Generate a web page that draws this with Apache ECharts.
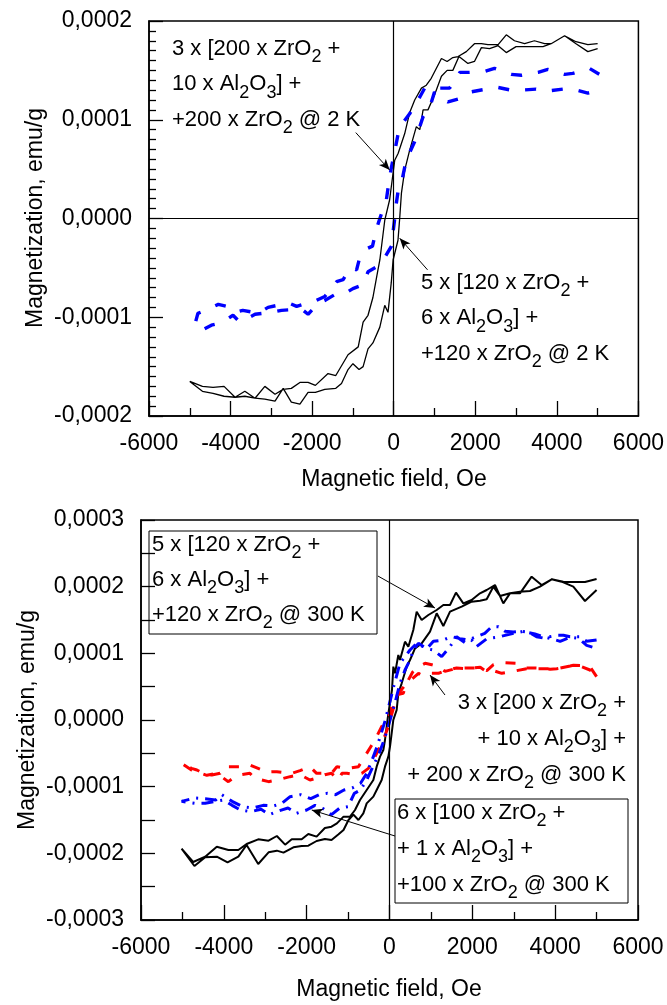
<!DOCTYPE html>
<html>
<head>
<meta charset="utf-8">
<script src="https://cdn.jsdelivr.net/npm/echarts@6/dist/echarts.min.js"></script>
<style>
  html, body { margin: 0; padding: 0; background: #fff; }
  #chart { width: 667px; height: 1005px; }
</style>
</head>
<body>
<div id="chart"></div>
<script>
// Magnetisation loops M(H). Field in Oe, magnetisation in units of 1e-4 emu/g.
// Each loop is stored as two branches (upper = descending field, lower = ascending field),
// both listed with increasing field.

// ---- upper panel, 2 K ----
const top120Upper = [
  [-5000,-1.65],[-4690,-1.70],[-4430,-1.71],[-4160,-1.70],[-3890,-1.81],[-3650,-1.75],[-3400,-1.82],
  [-3160,-1.70],[-2910,-1.78],[-2710,-1.73],[-2510,-1.72],[-2300,-1.66],[-2100,-1.66],[-1920,-1.69],
  [-1610,-1.57],[-1420,-1.59],[-1120,-1.38],[-870,-1.30],[-750,-1.05],[-630,-0.98],[-510,-0.80],
  [-400,-0.55],[-340,-0.42],[-220,-0.02],[-100,0.19],[25,0.59],[110,0.66],[270,0.86],[390,1.07],
  [515,1.20],[680,1.32],[800,1.35],[920,1.42],[1170,1.62],[1310,1.59],[1450,1.63],[1580,1.64],
  [1780,1.69],[1980,1.77],[2150,1.77],[2310,1.76],[2560,1.76],[2760,1.86],[2960,1.80],[3210,1.77],
  [3450,1.80],[3700,1.77],[3860,1.77],[4190,1.85],[4470,1.77],[4760,1.69],[5000,1.72]
];
const top120Lower = [
  [-5000,-1.65],[-4690,-1.75],[-4430,-1.77],[-4160,-1.80],[-3890,-1.81],[-3650,-1.80],[-3400,-1.82],
  [-3160,-1.83],[-2910,-1.85],[-2710,-1.72],[-2510,-1.86],[-2300,-1.88],[-2100,-1.76],[-1920,-1.76],
  [-1690,-1.73],[-1420,-1.72],[-1280,-1.67],[-1120,-1.53],[-1000,-1.47],[-850,-1.53],[-750,-1.50],
  [-630,-1.32],[-510,-1.26],[-340,-1.10],[-220,-0.88],[-140,-0.95],[-60,-0.65],[-15,-0.42],
  [105,-0.22],[150,0.02],[190,0.26],[270,0.49],[390,0.69],[555,0.93],[640,0.90],[720,1.10],
  [840,1.10],[1000,1.25],[1170,1.44],[1310,1.50],[1450,1.50],[1600,1.64],[1820,1.57],[1980,1.59],
  [2150,1.73],[2350,1.72],[2560,1.75],[2760,1.68],[3000,1.74],[3250,1.74],[3660,1.74],[3860,1.77],
  [4190,1.85],[4470,1.79],[4760,1.76],[5000,1.77]
];
const top200Upper = [
  [-4880,-1.08],[-4800,-0.96],[-4620,-0.93],[-4300,-0.87],[-4100,-0.89],[-3900,-0.95],[-3700,-0.93],
  [-3320,-0.96],[-3080,-0.90],[-2750,-0.87],[-2550,-0.86],[-2380,-0.89],[-2220,-0.87],[-2000,-0.85],
  [-1850,-0.82],[-1690,-0.79],[-1400,-0.64],[-1240,-0.62],[-1080,-0.50],[-910,-0.52],[-830,-0.39],
  [-680,-0.31],[-520,-0.28],[-420,-0.10],[-340,0.00],[-180,0.19],[-100,0.42],[-55,0.52],[25,0.68],
  [105,0.85],[190,0.95],[390,1.06],[515,1.15],[640,1.23],[760,1.32],[1270,1.32],[1370,1.32],
  [1620,1.48],[1860,1.48],[2230,1.49],[2470,1.52],[2880,1.46],[3130,1.45],[3540,1.48],[3780,1.51],
  [4190,1.46],[4390,1.47],[4800,1.52],[5040,1.46]
];
const top200Lower = [
  [-4880,-1.08],[-4700,-1.13],[-4470,-1.08],[-4220,-1.055],[-3940,-0.98],[-3770,-1.05],[-3400,-0.97],
  [-3000,-0.95],[-2750,-0.93],[-2380,-0.92],[-2220,-0.93],[-2100,-0.97],[-1850,-0.86],[-1690,-0.83],
  [-1400,-0.76],[-1200,-0.76],[-1000,-0.71],[-750,-0.67],[-630,-0.54],[-420,-0.49],[-200,-0.38],
  [-55,-0.28],[-40,-0.22],[25,0.00],[40,0.085],[105,0.27],[190,0.36],[270,0.52],[350,0.63],
  [515,0.78],[600,0.88],[720,1.03],[880,1.12],[1000,1.28],[1130,1.22],[1330,1.18],[1660,1.22],
  [1860,1.28],[2270,1.31],[2520,1.33],[2880,1.30],[3130,1.30],[3490,1.31],[3740,1.29],[4150,1.31],
  [4390,1.31],[4760,1.27],[5040,1.30]
];

// ---- lower panel, 300 K ----
const bot120Upper = [
  [-5020,-1.93],[-4740,-2.13],[-4450,-2.05],[-4170,-1.90],[-3890,-1.95],[-3650,-1.95],[-3450,-1.86],
  [-3170,-1.79],[-2920,-1.81],[-2720,-1.74],[-2520,-1.87],[-2360,-1.79],[-2120,-1.79],[-1960,-1.71],
  [-1760,-1.75],[-1560,-1.62],[-1400,-1.60],[-1270,-1.55],[-1110,-1.45],[-953,-1.45],[-833,-1.35],
  [-712,-1.20],[-551,-1.05],[-390,-0.90],[-310,-0.70],[-229,-0.55],[-149,-0.45],[-109,-0.30],
  [-28,0.10],[12,0.25],[60,0.45],[93,0.80],[133,0.70],[213,0.975],[253,0.90],[374,1.175],[455,1.10],
  [575,1.35],[656,1.625],[777,1.50],[938,1.575],[1139,1.65],[1300,1.725],[1461,1.725],[1605,1.91],
  [1782,1.75],[1983,1.80],[2185,1.90],[2346,1.95],[2547,2.025],[2748,1.75],[2909,1.90],[3150,1.90],
  [3432,2.15],[3673,2.025],[3915,2.11],[4156,2.075],[4438,2.00],[4720,1.785],[5000,1.95]
];
const bot120Lower = [
  [-5020,-1.93],[-4710,-2.19],[-4450,-2.06],[-4170,-2.05],[-3910,-2.135],[-3650,-2.05],[-3450,-1.875],
  [-3170,-2.16],[-2920,-1.985],[-2720,-1.96],[-2560,-1.99],[-2320,-1.91],[-2120,-1.89],[-1960,-1.885],
  [-1760,-1.815],[-1560,-1.785],[-1400,-1.80],[-1230,-1.715],[-1110,-1.65],[-990,-1.50],[-871,-1.42],
  [-750,-1.50],[-632,-1.40],[-551,-1.25],[-390,-1.15],[-310,-1.05],[-189,-0.90],[-109,-0.70],
  [-28,-0.55],[12,-0.40],[52,-0.20],[92,0.00],[173,0.15],[213,0.40],[294,0.55],[415,0.80],[495,0.90],
  [616,1.075],[777,1.15],[978,1.325],[1139,1.60],[1300,1.41],[1461,1.625],[1742,1.70],[1983,1.775],
  [2185,1.79],[2346,1.81],[2507,2.00],[2668,1.86],[2909,1.90],[3150,1.925],[3392,1.935],[3633,2.00],
  [3915,2.11],[4196,2.075],[4438,2.07],[4720,2.07],[5000,2.115]
];
const bot200Upper = [
  [-5020,-0.65],[-4780,-0.725],[-4650,-0.75],[-4410,-0.825],[-4290,-0.825],[-4090,-0.80],[-3970,-0.70],
  [-3570,-0.70],[-3370,-0.675],[-2960,-0.78],[-2720,-0.775],[-2360,-0.80],[-2160,-0.76],[-1920,-0.70],
  [-1760,-0.80],[-1400,-0.80],[-1270,-0.70],[-1030,-0.73],[-750,-0.70],[-630,-0.58],[-430,-0.38],
  [-350,-0.30],[-190,-0.10],[-110,-0.05],[-30,0.00],[10,0.10],[90,0.30],[200,0.38],[330,0.40],
  [455,0.60],[560,0.72],[700,0.80],[860,0.85],[1020,0.83],[1180,0.80],[1340,0.73],[1620,0.775],
  [1860,0.78],[2190,0.78],[2350,0.74],[2510,0.83],[2710,0.86],[3070,0.85],[3310,0.78],[3470,0.78],
  [3720,0.775],[3880,0.76],[4040,0.77],[4280,0.80],[4440,0.82],[4640,0.815],[4840,0.80],[5000,0.65]
];
const bot200Lower = [
  [-5020,-0.65],[-4780,-0.75],[-4410,-0.83],[-4170,-0.80],[-3890,-0.925],[-3730,-0.85],[-3570,-0.82],
  [-3370,-0.80],[-3250,-0.875],[-2920,-0.925],[-2720,-0.90],[-2400,-0.85],[-2160,-0.82],[-1920,-0.90],
  [-1760,-0.87],[-1560,-0.82],[-1400,-0.80],[-1230,-0.90],[-1150,-0.80],[-1030,-0.80],[-830,-0.82],
  [-670,-0.80],[-510,-0.725],[-390,-0.60],[-270,-0.45],[-150,-0.30],[-30,-0.10],[60,0.10],[150,0.30],
  [280,0.45],[420,0.55],[550,0.62],[700,0.70],[780,0.675],[940,0.70],[1180,0.70],[1340,0.74],
  [1620,0.78],[1860,0.77],[2190,0.79],[2350,0.72],[2510,0.74],[2710,0.70],[2910,0.72],[3310,0.77],
  [3720,0.77],[4040,0.77],[4440,0.82],[4640,0.80],[4840,0.75],[5000,0.65]
];
const bot100Upper = [
  [-5020,-1.22],[-4700,-1.17],[-4450,-1.18],[-4200,-1.20],[-4050,-1.12],[-3800,-1.22],[-3550,-1.30],
  [-3300,-1.32],[-3050,-1.28],[-2800,-1.29],[-2600,-1.25],[-2400,-1.15],[-2150,-1.12],[-1900,-1.18],
  [-1700,-1.12],[-1500,-1.10],[-1300,-1.12],[-1100,-1.05],[-900,-1.02],[-700,-0.95],[-550,-0.80],
  [-420,-0.60],[-300,-0.40],[-200,-0.20],[-100,0.00],[0,0.25],[100,0.50],[253,0.85],[374,0.95],
  [495,1.05],[656,1.15],[900,1.07],[1060,1.18],[1300,1.20],[1500,1.25],[1700,1.22],[1900,1.20],
  [2100,1.25],[2300,1.30],[2470,1.40],[2630,1.40],[2790,1.33],[2990,1.32],[3190,1.33],[3350,1.32],
  [3550,1.25],[3710,1.23],[4040,1.27],[4200,1.27],[4360,1.25],[4600,1.25],[4760,1.18],[5000,1.20]
];
const bot100Lower = [
  [-5020,-1.22],[-4700,-1.25],[-4450,-1.25],[-4200,-1.22],[-4000,-1.20],[-3800,-1.28],[-3600,-1.35],
  [-3350,-1.375],[-3100,-1.34],[-2900,-1.42],[-2700,-1.37],[-2450,-1.32],[-2250,-1.40],[-2000,-1.35],
  [-1800,-1.28],[-1600,-1.33],[-1400,-1.42],[-1200,-1.32],[-1000,-1.30],[-850,-1.10],[-700,-1.05],
  [-550,-0.90],[-400,-0.70],[-250,-0.50],[-130,-0.30],[-30,-0.10],[60,0.10],[150,0.30],[253,0.55],
  [374,0.75],[495,0.90],[575,1.05],[697,1.15],[897,1.07],[1060,1.05],[1260,0.95],[1460,1.10],
  [1620,1.25],[1820,1.16],[1980,1.20],[2100,1.10],[2350,1.22],[2590,1.24],[2790,1.27],[3000,1.30],
  [3230,1.33],[3510,1.29],[3710,1.25],[3900,1.22],[4120,1.18],[4360,1.24],[4560,1.225],[4760,1.12],
  [5000,1.075]
];

// ---- tick labels ----
const xTickValues = [-6000, -4000, -2000, 0, 2000, 4000, 6000];
const xTickLabels = ['-6000', '-4000', '-2000', '0', '2000', '4000', '6000'];
const topYTickValues = [-2, -1, 0, 1, 2];
const topYTickLabels = ['-0,0002', '-0,0001', '0,0000', '0,0001', '0,0002'];
const botYTickValues = [-3, -2, -1, 0, 1, 2, 3];
const botYTickLabels = ['-0,0003', '-0,0002', '-0,0001', '0,0000', '0,0001', '0,0002', '0,0003'];

// ---- annotation arrows (tail -> head, data coordinates) ----
const topArrows = [
  [[-930, 0.87], [-98, 0.49]],
  [[830, -0.52], [147, -0.20]]
];
const botArrows = [
  [[-280, 2.16], [1098, 1.68]],
  [[1340, 0.375], [978, 0.675]],
  [[133, -1.74], [-1878, -1.35]]
];

const FONT = '"Liberation Sans", Arial, Helvetica, sans-serif';

// descending branch (from +H to -H) followed by the ascending branch
function loop(upper, lower) {
  return upper.slice().reverse().concat(lower);
}
function pickLabel(values, labels) {
  return function (v) {
    const i = values.indexOf(Math.round(v));
    return i >= 0 ? labels[i] : '';
  };
}
function arrowData(list) {
  return list.map(function (a) {
    return [{ coord: a[0], symbol: 'none' }, { coord: a[1], symbol: 'arrow' }];
  });
}

const black = '#000';
function xAxisCfg(grid) {
  return {
    gridIndex: grid, type: 'value', min: -6000, max: 6000, interval: 2000,
    axisLine: { show: true, onZero: false, lineStyle: { color: black, width: 1.5 } },
    axisTick: { show: true, inside: true, length: 15, lineStyle: { color: black, width: 1.3 } },
    minorTick: { show: true, splitNumber: 2, length: 8, lineStyle: { color: black, width: 1.3 } },
    splitLine: { show: false },
    axisLabel: {
      color: black, fontSize: 23, fontFamily: FONT, margin: 16,
      formatter: pickLabel(xTickValues, xTickLabels)
    }
  };
}
function yAxisCfg(grid, lim, minorSplit, minorLen, values, labels) {
  return {
    gridIndex: grid, type: 'value', min: -lim, max: lim, interval: 1,
    axisLine: { show: true, onZero: false, lineStyle: { color: black, width: 1.5 } },
    axisTick: { show: true, inside: true, length: 14, lineStyle: { color: black, width: 1.3 } },
    minorTick: { show: true, splitNumber: minorSplit, length: minorLen, lineStyle: { color: black, width: 1.3 } },
    splitLine: { show: false },
    axisLabel: {
      color: black, fontSize: 23, fontFamily: FONT, margin: 17,
      formatter: pickLabel(values, labels)
    }
  };
}

const textBase = { fontSize: 22, fontFamily: FONT, fill: black };
const subStyle = { fontSize: 18, fontFamily: FONT, fill: black, lineHeight: 18, padding: [17, 0, 0, 0] };

function note(x, y, text, lh, align) {
  return {
    type: 'text', x: x, y: y, z: 100,
    style: Object.assign({}, textBase, {
      text: text, lineHeight: lh,
      align: align || 'left', textAlign: align || 'left',
      verticalAlign: 'top', textVerticalAlign: 'top',
      rich: { s: subStyle }
    })
  };
}
function plainText(x, y, text, rot) {
  return {
    type: 'text', x: x, y: y, rotation: rot || 0, z: 100,
    style: {
      text: text, fontSize: 23, fontFamily: FONT, fill: black,
      align: 'center', textAlign: 'center',
      verticalAlign: 'middle', textVerticalAlign: 'middle'
    }
  };
}
function box(x, y, w, h) {
  return {
    type: 'rect', z: 99, shape: { x: x, y: y, width: w, height: h },
    style: { fill: 'none', stroke: black, lineWidth: 1 }
  };
}

const chart = echarts.init(document.getElementById('chart'), null, { renderer: 'canvas' });

const option = {
  animation: false,
  backgroundColor: '#fff',
  grid: [
    { left: 149, top: 21, width: 490, height: 395, show: true, borderColor: black, borderWidth: 1.5, backgroundColor: 'transparent' },
    { left: 141, top: 520, width: 497, height: 400, show: true, borderColor: black, borderWidth: 1.5, backgroundColor: 'transparent' }
  ],
  xAxis: [xAxisCfg(0), xAxisCfg(1)],
  yAxis: [
    yAxisCfg(0, 2, 10, 7, topYTickValues, topYTickLabels),
    yAxisCfg(1, 3, 2, 14, botYTickValues, botYTickLabels)
  ],
  series: [
    {
      type: 'line', xAxisIndex: 0, yAxisIndex: 0, showSymbol: false, silent: true,
      data: loop(top120Upper, top120Lower),
      lineStyle: { color: black, width: 1.3 },
      markLine: {
        silent: true, symbol: ['none', 'none'], label: { show: false },
        lineStyle: { color: black, width: 1.2, type: 'solid' },
        data: [{ xAxis: 0 }, { yAxis: 0 }]
      }
    },
    {
      type: 'line', xAxisIndex: 0, yAxisIndex: 0, showSymbol: false, silent: true,
      data: loop(top200Upper, top200Lower),
      lineStyle: { color: '#0000ff', width: 3.4, type: [11, 16] },
      markLine: {
        silent: true, symbolSize: [7, 11], label: { show: false },
        lineStyle: { color: black, width: 1, type: 'solid' },
        data: arrowData(topArrows)
      }
    },
    {
      type: 'line', xAxisIndex: 1, yAxisIndex: 1, showSymbol: false, silent: true,
      data: loop(bot120Upper, bot120Lower),
      lineStyle: { color: black, width: 2 },
      markLine: {
        silent: true, symbol: ['none', 'none'], label: { show: false },
        lineStyle: { color: black, width: 1.2, type: 'solid' },
        data: [{ xAxis: 0 }]
      }
    },
    {
      type: 'line', xAxisIndex: 1, yAxisIndex: 1, showSymbol: false, silent: true,
      data: loop(bot200Upper, bot200Lower),
      lineStyle: { color: '#ff0000', width: 3, type: [10, 12] }
    },
    {
      type: 'line', xAxisIndex: 1, yAxisIndex: 1, showSymbol: false, silent: true,
      data: loop(bot100Upper, bot100Lower),
      lineStyle: { color: '#0000ff', width: 3, type: [12, 7, 2, 7] },
      markLine: {
        silent: true, symbolSize: [7, 11], label: { show: false },
        lineStyle: { color: black, width: 1, type: 'solid' },
        data: arrowData(botArrows)
      }
    }
  ],
  graphic: [
    plainText(394, 480, 'Magnetic field, Oe'),
    plainText(389, 990, 'Magnetic field, Oe'),
    plainText(36, 218, 'Magnetization, emu/g', Math.PI / 2),
    plainText(28, 720, 'Magnetization, emu/g', Math.PI / 2),
    note(172, 31, '3 x [200 x ZrO{s|2} +\n10 x Al{s|2}O{s|3}] +\n+200 x ZrO{s|2} @ 2 K', 35.5),
    note(421, 265, '5 x [120 x ZrO{s|2} +\n6 x Al{s|2}O{s|3}] +\n+120 x ZrO{s|2} @ 2 K', 35.5),
    box(149, 531, 228, 103),
    note(152, 527, '5 x [120 x ZrO{s|2} +\n6 x Al{s|2}O{s|3}] +\n+120 x ZrO{s|2} @ 300 K', 35),
    note(626, 685, '3 x [200 x ZrO{s|2} +\n+ 10 x Al{s|2}O{s|3}] +\n+ 200 x ZrO{s|2} @ 300 K', 36, 'right'),
    box(395, 799, 233, 104),
    note(397, 795, '6 x [100 x ZrO{s|2} +\n+ 1 x Al{s|2}O{s|3}] +\n+100 x ZrO{s|2} @ 300 K', 36)
  ]
};
chart.setOption(option);
</script>
</body>
</html>
